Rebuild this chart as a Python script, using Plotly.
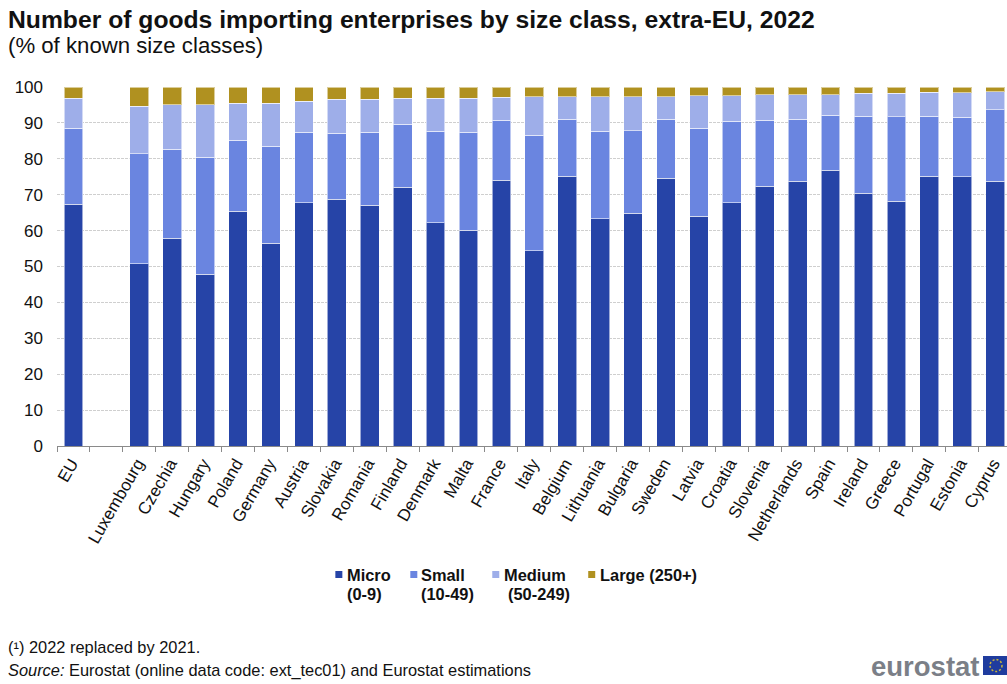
import plotly.graph_objects as go

W, H = 1007, 684
PLOT_LEFT, PLOT_TOP, PLOT_BOTTOM = 56.5, 87, 446

countries = ["EU", " ", "Luxembourg", "Czechia", "Hungary", "Poland", "Germany", "Austria",
             "Slovakia", "Romania", "Finland", "Denmark", "Malta", "France", "Italy", "Belgium",
             "Lithuania", "Bulgaria", "Sweden", "Latvia", "Croatia", "Slovenia", "Netherlands",
             "Spain", "Ireland", "Greece", "Portugal", "Estonia", "Cyprus"]

micro = [67.4, None, 50.7, 57.9, 47.9, 65.4, 56.5, 67.7, 68.8, 67.1, 72.1, 62.2, 60.1, 74.0, 54.4,
         75.2, 63.3, 64.8, 74.6, 64.0, 67.7, 72.3, 73.7, 76.8, 70.4, 68.2, 75.2, 75.0, 73.7]
small = [21.1, None, 30.7, 24.8, 32.6, 19.8, 27.0, 19.7, 18.3, 20.3, 17.5, 25.5, 27.3, 16.7, 32.1,
         15.8, 24.4, 23.0, 16.4, 24.5, 22.7, 18.5, 17.3, 15.4, 21.5, 23.5, 16.7, 16.6, 19.9]
medium = [8.3, None, 13.3, 12.3, 14.5, 10.3, 12.0, 8.7, 9.5, 9.2, 7.2, 9.1, 9.4, 6.4, 10.8,
          6.3, 9.6, 9.5, 6.3, 9.0, 7.1, 7.0, 6.8, 5.6, 6.3, 6.5, 6.6, 6.8, 5.1]
large = [3.2, None, 5.3, 5.0, 5.0, 4.5, 4.5, 3.9, 3.4, 3.4, 3.2, 3.2, 3.2, 2.9, 2.7,
         2.7, 2.7, 2.7, 2.7, 2.5, 2.5, 2.2, 2.2, 2.2, 1.8, 1.8, 1.5, 1.6, 1.3]

series = [("Micro", micro, "#2644A7"), ("Small", small, "#6A85E0"),
          ("Medium", medium, "#9EAEE9"), ("Large (250+)", large, "#B09120")]

FONT = "Liberation Sans, Arial, sans-serif"
INK = "#111111"

fig = go.Figure()
for name, values, colour in series:
    fig.add_bar(x=countries, y=values, name=name, width=0.57, showlegend=False,
                marker=dict(color=colour, line=dict(color="rgba(255,255,255,0.55)", width=1)))


# Paper coordinates are relative to the plot area, so page pixels are converted here
def px(x):
    return (x - PLOT_LEFT) / (W - PLOT_LEFT)


def py(y):
    return (PLOT_BOTTOM - y) / (PLOT_BOTTOM - PLOT_TOP)


def text(x, y, s, size, anchor="left", colour=INK):
    fig.add_annotation(xref="paper", yref="paper", x=px(x), y=py(y), text=s, showarrow=False,
                       xanchor=anchor, yanchor="middle", align="left", borderpad=0,
                       font=dict(family=FONT, size=size, color=colour))


# Heading and footnotes
text(6, 20, "<b>Number of goods importing enterprises by size class, extra-EU, 2022</b>", 24.7)
text(6, 46, "(% of known size classes)", 22.2)
text(6, 647, "(¹) 2022 replaced by 2021.", 16.4)
text(6, 670, "<i>Source:</i> Eurostat (online data code: ext_tec01) and Eurostat estimations", 16.4)

# Key below the chart
key = [(335, 346, "Micro", 346, "(0-9)", "#2644A7"),
       (410, 420, "Small", 420, "(10-49)", "#6A85E0"),
       (492, 503, "Medium", 507, "(50-249)", "#9EAEE9"),
       (588, 599, "Large (250+)", None, None, "#B09120")]
for sx, tx, first, tx2, second, colour in key:
    fig.add_shape(type="rect", xref="paper", yref="paper", x0=px(sx), x1=px(sx + 7),
                  y0=py(578), y1=py(571), fillcolor=colour, line_width=0)
    text(tx, 574.5, f"<b>{first}</b>", 16.4)
    if second:
        text(tx2, 593.5, f"<b>{second}</b>", 16.4)

# Eurostat wordmark and flag
text(870, 666, "<b>eurostat</b>", 27.5, colour="#7B7F87")
fig.add_shape(type="rect", xref="paper", yref="paper", x0=px(983), x1=px(1007),
              y0=py(675), y1=py(656), fillcolor="#1F3C9E", line_width=0)
fig.add_shape(type="circle", xref="paper", yref="paper", x0=px(990), x1=px(1002),
              y0=py(671.5), y1=py(659.5), line=dict(color="#C9B53A", width=1.5, dash="2px,2px"))

fig.update_layout(
    width=W, height=H, autosize=False, barmode="stack",
    paper_bgcolor="white", plot_bgcolor="white",
    margin=dict(l=PLOT_LEFT, r=0, t=PLOT_TOP, b=H - PLOT_BOTTOM, pad=0),
    font=dict(family=FONT, size=17, color=INK),
    xaxis=dict(type="category", categoryorder="array", categoryarray=countries,
               range=[-0.5, 28.36], tickson="boundaries", ticks="outside", ticklen=5,
               tickcolor="#8A8A8A", tickwidth=1, tickangle=-60, showline=True,
               linecolor="#8A8A8A", linewidth=1, showgrid=False, tickfont=dict(size=17),
               ticklabelshift=-2),
    yaxis=dict(range=[0, 100], tickmode="array", tickvals=list(range(0, 101, 10)),
               showgrid=True, gridcolor="#CFCFCF", griddash="3px,1px", gridwidth=1,
               ticks="", zeroline=False, showline=False, ticklabelstandoff=13,
               tickfont=dict(size=17)),
)

fig.write_html("out.html")
